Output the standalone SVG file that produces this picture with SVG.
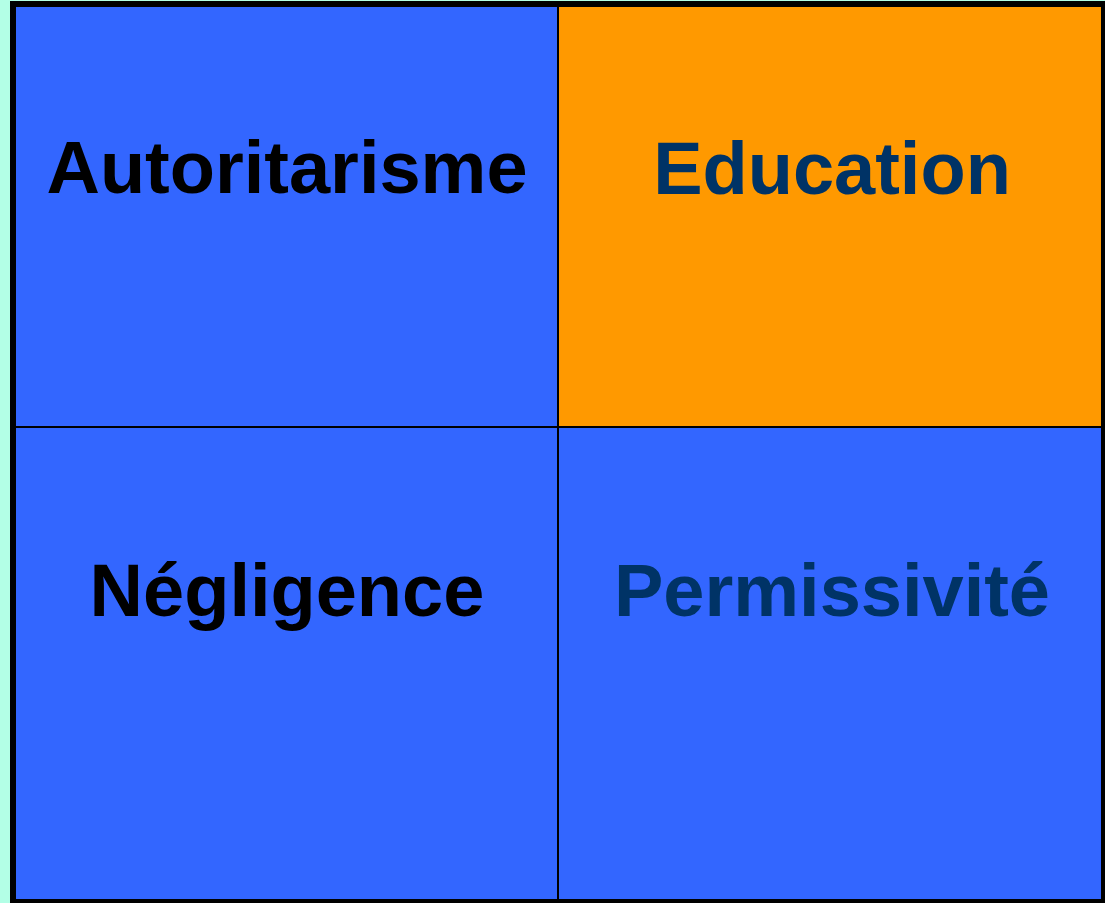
<svg xmlns="http://www.w3.org/2000/svg" width="1105" height="903" viewBox="0 0 1105 903">
  <style>
    .blue { fill: #3366FF; }
    .orange { fill: #FF9900; }
    .lbl { font-family: "Liberation Sans", Arial, sans-serif; font-weight: bold; font-size: 74px; text-anchor: middle; }
    .black { fill: #000000; }
    .navy { fill: #003366; }
  </style>
  <rect x="0" y="0" width="1105" height="903" fill="#B3FFE6"/>
  <rect x="10" y="1" width="1095" height="902" fill="#000000"/>
  <g id="autoritarisme">
    <rect class="blue" x="16" y="7" width="541" height="419"/>
    <text class="lbl black" x="287" y="193">Autoritarisme</text>
  </g>
  <g id="education">
    <rect class="orange" x="559" y="7" width="542" height="419"/>
    <text class="lbl navy" x="832" y="194">Education</text>
  </g>
  <g id="negligence">
    <rect class="blue" x="16" y="428" width="541" height="471"/>
    <text class="lbl black" x="287" y="616">Négligence</text>
  </g>
  <g id="permissivite">
    <rect class="blue" x="559" y="428" width="542" height="471"/>
    <text class="lbl navy" x="832" y="616">Permissivité</text>
  </g>
  <g id="connectors"></g>
</svg>
